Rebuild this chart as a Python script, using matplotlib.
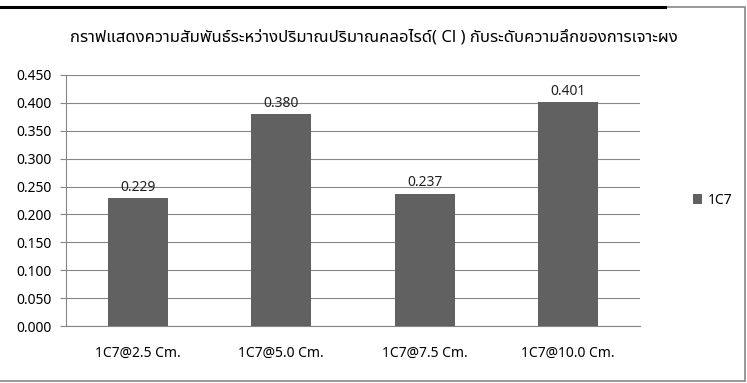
import matplotlib.pyplot as plt
from matplotlib.patches import Rectangle
from matplotlib.lines import Line2D

categories = ['1C7@2.5 Cm.', '1C7@5.0 Cm.', '1C7@7.5 Cm.', '1C7@10.0 Cm.']
values = [0.229, 0.380, 0.237, 0.401]
series_name = '1C7'
yticks = [0.0, 0.05, 0.10, 0.15, 0.20, 0.25, 0.30, 0.35, 0.40, 0.45]
title = 'กราฟแสดงความสัมพันธ์ระหว่างปริมาณปริมาณคลอไรด์( Cl ) กับระดับความลึกของการเจาะผง'

plt.rcParams['font.family'] = ['Noto Sans Thai', 'Noto Sans', 'DejaVu Sans']

fig = plt.figure(figsize=(7.47, 3.83), dpi=100)
ax = fig.add_axes([66 / 747, 1 - 326 / 383, (640 - 66) / 747, (326 - 75) / 383])

bars = ax.bar(range(len(categories)), values, width=0.42, color='#616161', label=series_name, zorder=3)
for b, v in zip(bars, values):
    ax.text(b.get_x() + b.get_width() / 2, v + 0.006, f'{v:.3f}', ha='center', va='bottom',
            fontsize=10, color='#222222')

ax.set_xlim(-0.5, len(categories) - 0.5)
ax.set_ylim(0, 0.45)
ax.set_yticks(yticks)
ax.set_yticklabels([f'{t:.3f}' for t in yticks], fontsize=10)
ax.set_xticks(range(len(categories)))
ax.set_xticklabels(categories, fontsize=10)
ax.tick_params(axis='x', length=0, pad=14)
ax.tick_params(axis='y', length=4, color='#868686', pad=6)
ax.grid(axis='y', color='#868686', linewidth=0.8, zorder=0)
for s in ['top', 'right']:
    ax.spines[s].set_visible(False)
ax.spines['left'].set_color('#868686')
ax.spines['bottom'].set_color('#868686')

ax.legend(loc='center left', bbox_to_anchor=(1.07, 0.5), frameon=False, fontsize=10,
          handlelength=0.7, handleheight=0.7, handletextpad=0.4)

fig.text(0.5, 1 - 37 / 383, title, ha='center', va='center', fontsize=12, fontweight='bold')

# chart border
fig.patches.append(Rectangle((-2 / 747, 2 / 383), 747 / 747, 374 / 383, transform=fig.transFigure,
                             fill=False, edgecolor='#868686', linewidth=1.2))
fig.lines.append(Line2D([0, 665 / 747], [1 - 7 / 383, 1 - 7 / 383], transform=fig.transFigure,
                        color='black', linewidth=2.2))

fig.savefig('out.png', dpi=100)
